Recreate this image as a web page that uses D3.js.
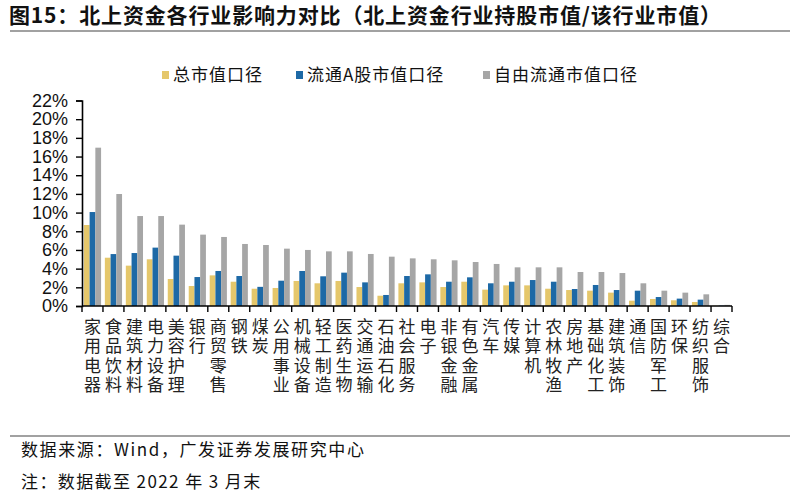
<!DOCTYPE html>
<html>
<head>
<meta charset="utf-8">
<script src="https://cdn.jsdelivr.net/npm/d3@7"></script>
<style>
  body { margin: 0; background: #fff; }
  svg { display: block; }
</style>
</head>
<body>
<script>
const categories = ["家用电器","食品饮料","建筑材料","电力设备","美容护理","银行","商贸零售","钢铁","煤炭","公用事业","机械设备","轻工制造","医药生物","交通运输","石油石化","社会服务","电子","非银金融","有色金属","汽车","传媒","计算机","农林牧渔","房地产","基础化工","建筑装饰","通信","国防军工","环保","纺织服饰","综合"];

// % values
const totalMv   = [8.67,5.17,4.32,5.00,2.89,2.14,3.28,2.60,1.85,1.93,2.68,2.43,2.68,2.03,1.10,2.43,2.53,2.03,2.60,1.75,2.21,2.21,1.85,1.71,1.64,1.43,0.57,0.75,0.61,0.43,0.02];
const floatA    = [10.06,5.56,5.67,6.25,5.39,3.10,3.75,3.21,2.05,2.71,3.75,3.18,3.57,2.53,1.18,3.21,3.39,2.60,3.07,2.43,2.60,2.78,2.60,1.82,2.25,1.71,1.64,0.96,0.79,0.68,0.04];
const freeFloat = [16.95,11.99,9.63,9.63,8.71,7.64,7.39,6.64,6.53,6.14,6.00,5.85,5.85,5.57,5.28,5.10,5.00,4.89,4.71,4.50,4.14,4.14,4.14,3.64,3.64,3.53,2.43,1.64,1.43,1.25,0.12];

const seriesNames = ["总市值口径", "流通A股市值口径", "自由流通市值口径"];
const seriesColors = ["#E5C76B", "#1D69A6", "#A6A6A6"];
const yTicks = [0,2,4,6,8,10,12,14,16,18,20,22];

const width = 812, height = 494;
const cjk = "'Noto Sans CJK SC', sans-serif";

const svg = d3.select("body").append("svg")
    .attr("width", width)
    .attr("height", height);

// title
svg.append("text")
    .attr("x", 9).attr("y", 23)
    .attr("font-family", cjk)
    .attr("font-weight", "bold")
    .attr("font-size", 21)
    .attr("textLength", 712)
    .attr("lengthAdjust", "spacing")
    .attr("fill", "#111")
    .text("图15：北上资金各行业影响力对比（北上资金行业持股市值/该行业市值）");

svg.append("line")
    .attr("x1", 10).attr("x2", 790)
    .attr("y1", 31).attr("y2", 31)
    .attr("stroke", "#444").attr("stroke-width", 1.2);

// legend
const legendX = [162, 296, 483];
const legend = svg.append("g");
seriesNames.forEach((name, i) => {
    legend.append("rect")
        .attr("x", legendX[i]).attr("y", 71)
        .attr("width", 7).attr("height", 8)
        .attr("fill", seriesColors[i]);
    legend.append("text")
        .attr("x", legendX[i] + 11).attr("y", 81)
        .attr("font-family", cjk)
        .attr("font-size", 17)
        .attr("letter-spacing", 1)
        .attr("fill", "#111")
        .text(name);
});

// scales
const x0 = d3.scaleBand()
    .domain(categories)
    .range([82, 732])
    .paddingInner(0.18)
    .paddingOuter(0.09);

const x1 = d3.scaleBand()
    .domain(d3.range(3))
    .range([0, x0.bandwidth()]);

const y = d3.scaleLinear()
    .domain([0, 22])
    .range([306, 100.5]);

// bars
const series = [totalMv, floatA, freeFloat];
const gBars = svg.append("g");
series.forEach((vals, s) => {
    gBars.selectAll(null)
        .data(vals)
        .join("rect")
        .attr("x", (d, i) => x0(categories[i]) + x1(s))
        .attr("y", d => y(d))
        .attr("width", x1.bandwidth())
        .attr("height", d => y(0) - y(d))
        .attr("fill", seriesColors[s]);
});

// y axis
const yAxis = svg.append("g")
    .attr("transform", "translate(82,0)")
    .call(d3.axisLeft(y).tickValues(yTicks).tickFormat(d => d + "%").tickSize(6).tickPadding(8));
yAxis.select(".domain").attr("stroke", "#000").attr("stroke-width", 1.6);
yAxis.selectAll(".tick line").attr("stroke", "#000").attr("stroke-width", 1.4);
yAxis.selectAll(".tick text")
    .attr("font-family", "'Liberation Sans', Arial, sans-serif")
    .attr("font-size", 18)
    .attr("fill", "#111");

// x axis: baseline with ticks at band edges
const step = x0.step();
const edges = d3.range(categories.length + 1).map(i => 82 + i * step);
const gx = svg.append("g");
gx.append("line")
    .attr("x1", 82).attr("x2", 732)
    .attr("y1", y(0)).attr("y2", y(0))
    .attr("stroke", "#000").attr("stroke-width", 1.6);
gx.selectAll(".xt")
    .data(edges)
    .join("line")
    .attr("x1", d => d).attr("x2", d => d)
    .attr("y1", y(0)).attr("y2", y(0) + 6)
    .attr("stroke", "#000").attr("stroke-width", 1.4);

// vertical category labels (top-to-bottom writing mode)
gx.selectAll(".lab")
    .data(categories)
    .join("text")
    .attr("class", "lab")
    .attr("x", d => x0(d) + x0.bandwidth() / 2)
    .attr("y", 318)
    .attr("font-family", cjk)
    .attr("font-size", 17)
    .attr("letter-spacing", 2.5)
    .attr("fill", "#222")
    .style("writing-mode", "vertical-rl")
    .style("text-orientation", "upright")
    .text(d => d);

// footer
svg.append("line")
    .attr("x1", 10).attr("x2", 790)
    .attr("y1", 436).attr("y2", 436)
    .attr("stroke", "#444").attr("stroke-width", 1.2);

svg.append("text")
    .attr("x", 21).attr("y", 456)
    .attr("font-family", cjk)
    .attr("font-size", 17)
    .attr("letter-spacing", 1.6)
    .attr("fill", "#111")
    .text("数据来源：Wind，广发证券发展研究中心");

svg.append("text")
    .attr("x", 21).attr("y", 488)
    .attr("font-family", cjk)
    .attr("font-size", 17)
    .attr("letter-spacing", 1.4)
    .attr("fill", "#111")
    .text("注：数据截至 2022 年 3 月末");
</script>
</body>
</html>
